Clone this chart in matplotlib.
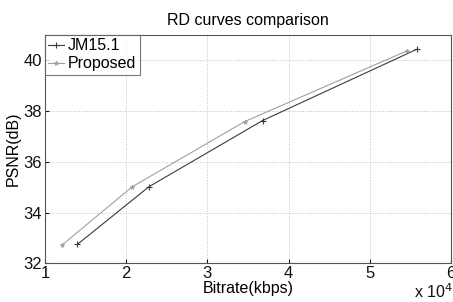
import matplotlib
matplotlib.use("Agg")
import matplotlib.pyplot as plt

plt.rcParams['font.family'] = ['Liberation Sans', 'DejaVu Sans']

jm_rate = [14000, 22800, 36800, 55800]
jm_psnr = [32.75, 35.02, 37.63, 40.44]
prop_rate = [12100, 20750, 34600, 54600]
prop_psnr = [32.72, 35.02, 37.59, 40.38]
xticks = [10000, 20000, 30000, 40000, 50000, 60000]
xtick_labels = ['1', '2', '3', '4', '5', '6']
yticks = [32, 34, 36, 38, 40]

fig = plt.figure(figsize=(4.53, 3.02), dpi=100)
ax = fig.add_axes([0.0993, 0.128, 0.8963, 0.756])

ax.plot(jm_rate, jm_psnr, color='#3a3a3a', lw=0.8, marker='+', ms=4.5, mew=0.8, label='JM15.1')
ax.plot(prop_rate, prop_psnr, color='#a0a0a0', lw=0.8, marker='*', ms=3.5, mew=0.5, label='Proposed')

ax.set_xlim(10000, 60000)
ax.set_ylim(32, 41)
ax.set_xticks(xticks)
ax.set_xticklabels(xtick_labels)
ax.set_yticks(yticks)
ax.tick_params(direction='in', length=3, labelsize=12, colors='#111111', pad=2)
ax.grid(True, linestyle=':', color='#c0c0c0', lw=0.7)
for s in ax.spines.values():
    s.set_color('#555555')
    s.set_linewidth(0.8)

ax.set_title('RD curves comparison', fontsize=11.5, pad=7)
ax.set_xlabel('Bitrate(kbps)', fontsize=11.5, labelpad=0)
ax.set_ylabel('PSNR(dB)', fontsize=11.5, labelpad=2)
fig.text(0.914, 0.012, r'x 10$^4$', fontsize=11.5, color='#111111')

leg = ax.legend(loc='upper left', fontsize=11.5, frameon=True, fancybox=False,
                borderaxespad=0, handlelength=1.0, handletextpad=0.25,
                borderpad=0.2, labelspacing=0.2)
leg.get_frame().set_edgecolor('#555555')
leg.get_frame().set_linewidth(0.8)

fig.savefig('out.png', dpi=100)
